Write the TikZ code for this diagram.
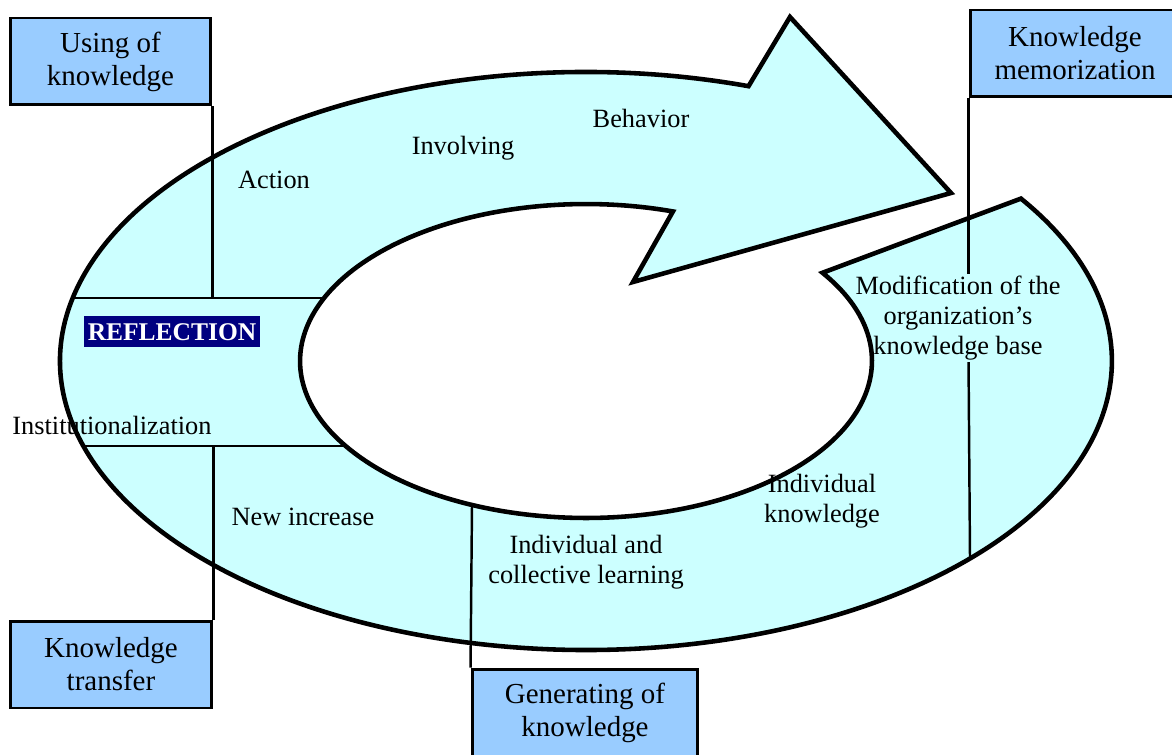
\documentclass[tikz,border=0pt]{standalone}
\usepackage{fontspec}
\setmainfont{Liberation Serif}
\usetikzlibrary{calc}
\definecolor{ringcyan}{HTML}{CCFFFF}
\definecolor{boxblue}{HTML}{99CCFF}
\definecolor{navyblue}{HTML}{000080}
\begin{document}
\begin{tikzpicture}[x=0.02cm,y=0.02cm,
  box/.style={draw,line width=1.7pt,fill=boxblue,align=center,minimum height=1.74cm,font=\fontsize{16.5}{18.8}\selectfont},
  lbl/.style={align=center,inner sep=1pt,font=\fontsize{15}{17}\selectfont},
  divider/.style={line width=1.4pt}]

    \useasboundingbox (0,0) rectangle (1172,754);
    \coordinate (ctr) at (586,393);

    \filldraw[fill=ringcyan,line width=2.6pt,line join=miter]
        ($(ctr)+(72:10.52cm and 5.78cm)$)
        arc[start angle=72,end angle=394.2,x radius=10.52cm,y radius=5.78cm]
        -- ($(ctr)+(34.2:5.72cm and 3.14cm)$)
        arc[start angle=34.2,end angle=-287.7,x radius=5.72cm,y radius=3.14cm]
        -- (633,472) -- (951,561) -- (790,737) -- cycle;

    \node[box,minimum width=4.02cm] (use) at (110.5,692.5) {Using of\\knowledge};
    \node[box,minimum width=4.2cm] (memo) at (1075,700.5) {Knowledge\\memorization};
    \node[box,minimum width=4.04cm] (transfer) at (111,89.5) {Knowledge\\transfer};
    \node[box,minimum width=4.52cm] (gen) at (585,41.5) {Generating of\\knowledge};

    \node[lbl] (action) at (274,574) {Action};
    \node[lbl] (involving) at (463,606) {Involving};
    \node[lbl] (behavior) at (641,636) {Behavior};
    \node[fill=navyblue,text=white,inner sep=0pt,minimum width=3.52cm,minimum height=0.62cm,
          font=\fontsize{14.5}{17}\selectfont\bfseries] (reflection) at (172,422) {REFLECTION};
    \node[lbl] (instit) at (112,329) {Institutionalization};
    \node[lbl] (newinc) at (303,237) {New increase};
    \node[lbl] (indcoll) at (586,191.5) {Individual and\\collective learning};
    \node[lbl] (indknow) at (822,253) {Individual\\knowledge};
    \node[lbl] (modif) at (958,436) {Modification of the\\organization's\\knowledge base};

    \coordinate (hl1a) at (72.7,456);
    \coordinate (hl1b) at (324,456);
    \coordinate (hl2a) at (83,308);
    \coordinate (hl2b) at (345,308);
    \coordinate (genfoot) at (472,249);
    \coordinate (memofoot) at (970,195.5);

    \draw[divider] (hl1a) -- (hl1b);
    \draw[divider] (hl2a) -- (hl2b);
    \draw[divider] (use.south east) -- (use.south east |- hl1a);
    \draw[divider] (transfer.north east) -- (transfer.north east |- hl2a);
    \draw[divider] (gen.north west) -- (genfoot);
    \draw[divider] (memo.south west) -- (memo.south west |- modif.north);
    \draw[divider] (modif.south -| memo.south west) -- (memofoot);

\end{tikzpicture}
\end{document}
